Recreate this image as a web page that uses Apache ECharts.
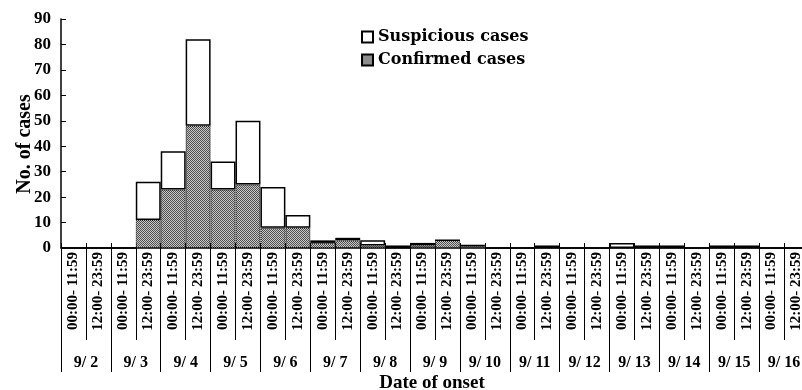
<!DOCTYPE html>
<html>
<head>
<meta charset="utf-8">
<script src="https://cdn.jsdelivr.net/npm/echarts@6/dist/echarts.min.js"></script>
<style>
  html, body { margin: 0; padding: 0; background: #fff; }
  #chart { width: 802px; height: 390px; }
</style>
</head>
<body>
<div id="chart"></div>
<script>
const halfDays = [];
for (let i = 0; i < 15; i++) halfDays.push("00:00- 11:59", "12:00- 23:59");
const days = ["9/ 2", "9/ 3", "9/ 4", "9/ 5", "9/ 6", "9/ 7", "9/ 8", "9/ 9",
  "9/ 10", "9/ 11", "9/ 12", "9/ 13", "9/ 14", "9/ 15", "9/ 16"];
const confirmed = [0, 0, 0, 11, 23, 48, 23, 25, 8, 8, 2, 3, 1, 0, 1, 3, 1, 0, 0, 0,
  0, 0, 0, 0, 0, 0, 0, 0, 0, 0];
const suspicious = [0, 0, 0, 15, 15, 34, 11, 25, 16, 5, 1, 1, 2, 1, 1, 0, 0, 0, 0, 1,
  0, 0, 2, 1, 1, 0, 1, 1, 0, 0];

// checker pattern for confirmed bars
const pat = document.createElement("canvas");
pat.width = 2;
pat.height = 2;
const pctx = pat.getContext("2d");
pctx.fillStyle = "#c8c8c8";
pctx.fillRect(0, 0, 2, 2);
pctx.fillStyle = "#505050";
pctx.fillRect(0, 0, 1, 1);
pctx.fillRect(1, 1, 1, 1);

const serif = "Liberation Serif";
const myChart = echarts.init(document.getElementById("chart"));

const option = {
  animation: false,
  grid: {
    left: 61,
    top: 19,
    width: 748,
    bottom: 142,
    outerBoundsMode: "none",
  },
  legend: {
    orient: "vertical",
    left: 356,
    top: 24,
    itemWidth: 11,
    itemHeight: 11,
    itemGap: 7,
    icon: "rect",
    data: ["Suspicious cases", "Confirmed cases"],
    textStyle: {
      fontFamily: "DejaVu Serif",
      fontWeight: "bold",
      fontSize: 16,
      lineHeight: 16,
      color: "#000",
    },
  },
  xAxis: [
    {
      type: "category",
      position: "bottom",
      data: halfDays,
      axisLine: { show: true, lineStyle: { color: "#000", width: 1.5 } },
      axisTick: { show: true, interval: 0, length: 92, lineStyle: { color: "#000" } },
      axisLabel: {
        interval: 0,
        rotate: 90,
        margin: 4,
        fontFamily: serif,
        fontWeight: "bold",
        fontSize: 15,
        color: "#000",
      },
    },
    {
      type: "category",
      position: "bottom",
      data: halfDays,
      axisLine: { show: false },
      axisTick: { show: true, interval: 0, inside: true, length: 5, lineStyle: { color: "#000" } },
      axisLabel: { show: false },
    },
    {
      type: "category",
      position: "bottom",
      data: days,
      axisLine: { show: false },
      axisTick: { show: true, interval: 0, length: 124, lineStyle: { color: "#000" } },
      axisLabel: {
        interval: 0,
        margin: 107,
        fontFamily: serif,
        fontWeight: "bold",
        fontSize: 16,
        color: "#000",
      },
    },
  ],
  yAxis: {
    type: "value",
    min: 0,
    max: 90,
    interval: 10,
    splitLine: { show: false },
    axisLine: { show: true, lineStyle: { color: "#000", width: 1.5 } },
    axisTick: { show: true, inside: true, length: 5, lineStyle: { color: "#000" } },
    axisLabel: {
      margin: 10,
      fontFamily: serif,
      fontWeight: "bold",
      fontSize: 17,
      color: "#000",
    },
  },
  graphic: [
    {
      type: "text",
      x: 25,
      y: 144,
      rotation: Math.PI / 2,
      style: {
        text: "No. of cases",
        font: "bold 20px 'Liberation Serif'",
        fill: "#000",
        align: "center",
        verticalAlign: "middle",
      },
    },
    {
      type: "text",
      x: 432,
      y: 383,
      style: {
        text: "Date of onset",
        font: "bold 19px 'Liberation Serif'",
        fill: "#000",
        align: "center",
        verticalAlign: "middle",
      },
    },
  ],
  series: [
    {
      name: "Confirmed cases",
      type: "bar",
      stack: "cases",
      barCategoryGap: 0,
      data: confirmed,
      itemStyle: {
        color: { image: pat, repeat: "repeat" },
        borderColor: "#000",
        borderWidth: 1,
        borderType: "dotted",
      },
    },
    {
      name: "Suspicious cases",
      type: "bar",
      stack: "cases",
      barCategoryGap: 0,
      data: suspicious,
      itemStyle: {
        color: "#fff",
        borderColor: "#000",
        borderWidth: 1.5,
      },
    },
  ],
};

option && myChart.setOption(option);
</script>
</body>
</html>
